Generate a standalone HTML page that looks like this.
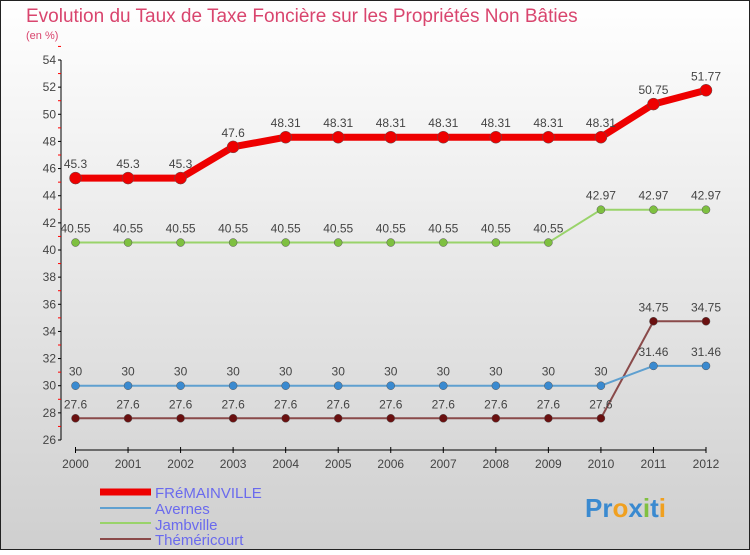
<!DOCTYPE html>
<html><head><meta charset="utf-8"><style>
body{margin:0}
svg text{font-family:"Liberation Sans",sans-serif}
</style></head><body>
<svg width="750" height="550" xmlns="http://www.w3.org/2000/svg">
<defs><linearGradient id="bg" x1="0" y1="0" x2="0" y2="1"><stop offset="0" stop-color="#ffffff"/><stop offset="1" stop-color="#cfcfcf"/></linearGradient></defs>
<rect x="0.5" y="0.5" width="749" height="549" fill="url(#bg)" stroke="#222"/>
<text x="26" y="22" font-size="19" fill="#d9456e">Evolution du Taux de Taxe Foncière sur les Propriétés Non Bâties</text>
<text x="26" y="39" font-size="11" fill="#d9456e">(en %)</text>
<g id="axes"></g>
<g id="series"></g>
<g>
<line x1="100" y1="492" x2="151" y2="492" stroke="#ee0000" stroke-width="7"/>
<text x="155" y="498" font-size="15" fill="#6a6aee">FRéMAINVILLE</text>
<line x1="100" y1="508" x2="151" y2="508" stroke="#5fa0d0" stroke-width="2"/>
<text x="155" y="514" font-size="15" fill="#6a6aee">Avernes</text>
<line x1="100" y1="523" x2="151" y2="523" stroke="#99d36a" stroke-width="2"/>
<text x="155" y="530" font-size="15" fill="#6a6aee">Jambville</text>
<line x1="100" y1="539" x2="151" y2="539" stroke="#8a4a4a" stroke-width="2"/>
<text x="155" y="545" font-size="15" fill="#6a6aee">Théméricourt</text>
</g>
<text x="585" y="517" font-size="26" font-weight="bold"><tspan fill="#3a8ad0">Pr</tspan><tspan fill="#f0a020">o</tspan><tspan fill="#3a8ad0">x</tspan><tspan fill="#80c040">i</tspan><tspan fill="#3a8ad0">t</tspan><tspan fill="#f0a020">i</tspan></text>
</svg>
<script>
const years=[2000,2001,2002,2003,2004,2005,2006,2007,2008,2009,2010,2011,2012];
const fremainville=[45.3,45.3,45.3,47.6,48.31,48.31,48.31,48.31,48.31,48.31,48.31,50.75,51.77];
const avernes=[30,30,30,30,30,30,30,30,30,30,30,31.46,31.46];
const jambville=[40.55,40.55,40.55,40.55,40.55,40.55,40.55,40.55,40.55,40.55,42.97,42.97,42.97];
const themericourt=[27.6,27.6,27.6,27.6,27.6,27.6,27.6,27.6,27.6,27.6,27.6,34.75,34.75];
const yTicks=[26,28,30,32,34,36,38,40,42,44,46,48,50,52,54];
const NS="http://www.w3.org/2000/svg";
const xs=i=>75.5+i*(706-75.5)/12;
const ys=v=>440-(v-26)*(380/28);
function mk(t,a,p){const e=document.createElementNS(NS,t);for(const k in a)e.setAttribute(k,a[k]);p.appendChild(e);return e;}
const ax=document.getElementById('axes');
const yl=mk('line',{x1:61,y1:ys(54),x2:61,y2:ys(26),stroke:'#000'},ax);


yTicks.forEach(v=>{
 mk('line',{x1:58,x2:61,y1:ys(v),y2:ys(v),stroke:'#000'},ax);
 mk('line',{x1:58,x2:61,y1:ys(v+1),y2:ys(v+1),stroke:'#f00'},ax);
 const t=mk('text',{x:56,y:ys(v)+4,'font-size':12,fill:'#444','text-anchor':'end'},ax);
 t.textContent=v;
 
 
});
const xl=mk('line',{x1:xs(0),y1:450,x2:xs(12),y2:450,stroke:'#000'},ax);


years.forEach((y,i)=>{
 mk('line',{x1:xs(i),x2:xs(i),y1:447,y2:453,stroke:'#000'},ax);
 const t=mk('text',{x:xs(i),y:468,'font-size':12,fill:'#444','text-anchor':'middle'},ax);
 t.textContent=y;
 
 
});
const sg=document.getElementById('series');
function draw(vals,color,w,r,dot,name){
 const g=mk('g',{},sg);
 
 
 const pl=mk('polyline',{points:vals.map((v,i)=>xs(i)+','+ys(v)).join(' '),fill:'none',stroke:color,'stroke-width':w,'stroke-linejoin':'round'},g);
 
 
 vals.forEach((v,i)=>{
  const c=mk('circle',{cx:xs(i),cy:ys(v),r:r,fill:dot,stroke:'#555','stroke-width':0.5},g);
  
  
  const t=mk('text',{x:xs(i),y:ys(v)-10,'font-size':12,fill:'#444','text-anchor':'middle'},g);
  t.textContent=v;
  
  
 });
}
draw(themericourt,'#8a4a4a',2,4,'#6a1010','themericourt');
draw(avernes,'#5fa0d0',2,4,'#3a8ad0','avernes');
draw(jambville,'#99d36a',2,4,'#7ec040','jambville');
draw(fremainville,'#ee0000',7,6,'#ee0000','fremainville');
</script>
</body></html>
